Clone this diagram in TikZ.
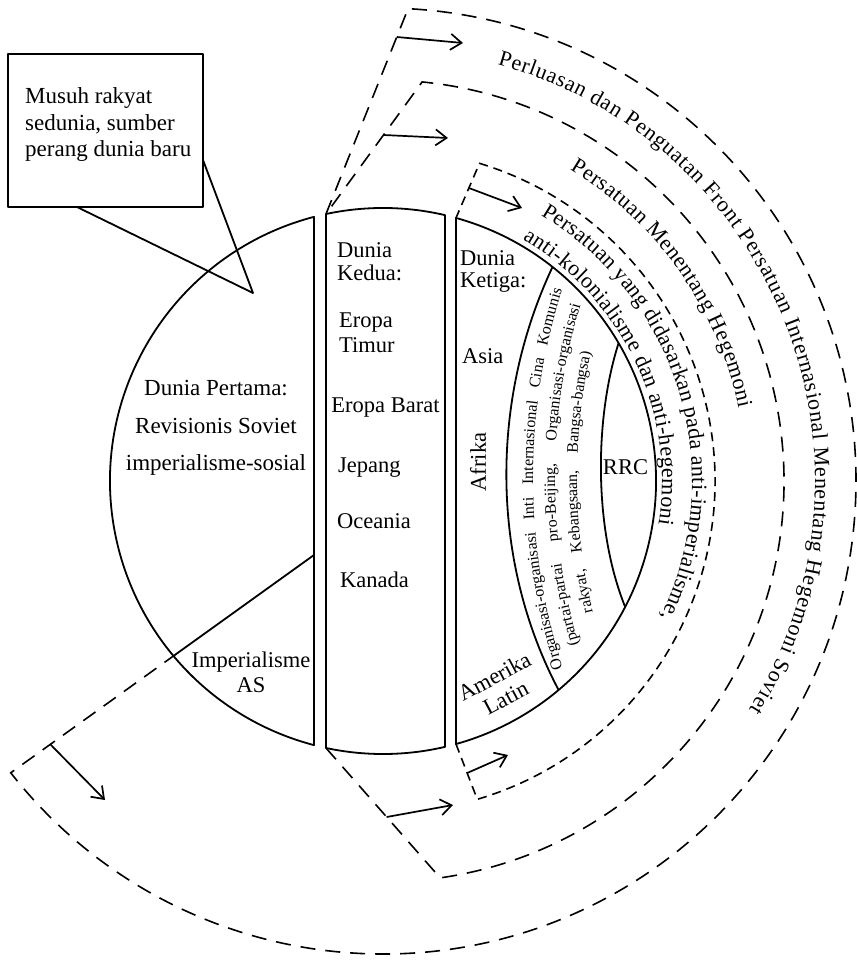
\documentclass[tikz,border=0pt]{standalone}
\usepackage{fontspec}
\setmainfont{Liberation Serif}
\usetikzlibrary{arrows.meta,decorations.text,calc}
\begin{document}
\begin{tikzpicture}[x=1pt,y=-1pt,
  solidline/.style={line width=1.8pt, line join=round},
  dashouter/.style={line width=1.6pt, dash pattern=on 15pt off 10pt},
  dashinner/.style={line width=1.6pt, dash pattern=on 9pt off 6pt},
  growarrow/.style={line width=1.7pt, -{Straight Barb[length=11pt,width=16pt]}},
  lbl/.style={inner sep=0pt, font=\fontsize{22.5}{24}\selectfont},
]
\useasboundingbox (0,0) rectangle (856,960);
\fill[white] (0,0) rectangle (856,960);
% ---------- key points ----------
\coordinate (C) at (383,481);
\coordinate (LT) at (313.96,216.87);
\coordinate (AS1) at (314,555);
\coordinate (AS2) at (173.4,656);
\coordinate (K1) at (326,214);
\coordinate (K2) at (326,748);
\coordinate (KR2) at (445,746.87);
\coordinate (KT) at (456,217.94);
\coordinate (KB) at (456,744.06);
\coordinate (L1C) at (1155,478);
% ---------- first world (left piece) ----------
\draw[solidline] (LT) arc[start angle=255.35, end angle=104.65, radius=273] -- cycle;
\draw[solidline] (AS1) -- (AS2);
% ---------- second world (middle piece) ----------
\draw[solidline] (K1) arc[start angle=257.95, end angle=283.13, radius=273]
   -- (KR2) arc[start angle=76.87, end angle=102.05, radius=273] -- cycle;
% ---------- third world (right piece) ----------
\draw[solidline] (KT) arc[start angle=285.51, end angle=434.49, radius=273] -- cycle;
\draw[solidline] (552.5,267) .. controls (490,400) and (490,560) .. (558.6,690);
\draw[solidline] (618.6,343) .. controls (594,420) and (594,530) .. (625.2,607);
% ---------- dashed bands ----------
\draw[dashouter] (K1) -- ($(C)+(-86.96:473)$) arc[start angle=-86.96, end angle=141.91, radius=473] -- (AS2);
\draw[dashouter] (K2) -- ($(C)+(81.8:401)$) arc[start angle=81.8, end angle=-84.4, radius=401] -- (K1);
\draw[dashinner] (KB) -- ($(C)+(73.5:332)$) arc[start angle=73.5, end angle=-73.1, radius=332] -- (KT);
% ---------- arrows ----------
\coordinate (a1s) at (396.8,37);   \coordinate (a1e) at (463,43);
\coordinate (a2s) at (50,744);     \coordinate (a2e) at (105,800);
\coordinate (a3s) at (383.5,135);  \coordinate (a3e) at (448,138);
\coordinate (a4s) at (386.6,817);  \coordinate (a4e) at (453,805);
\coordinate (a5s) at (468.9,188);  \coordinate (a5e) at (522,208);
\coordinate (a6s) at (467.2,773);  \coordinate (a6e) at (508,755);
\draw[growarrow] (a1s) -- (a1e);
\draw[growarrow] (a2s) -- (a2e);
\draw[growarrow] (a3s) -- (a3e);
\draw[growarrow] (a4s) -- (a4e);
\draw[growarrow] (a5s) -- (a5e);
\draw[growarrow] (a6s) -- (a6e);
% ---------- callout ----------
\coordinate (cb1) at (77,207);
\coordinate (cb2) at (203,160);
\coordinate (tip) at (253,293);
\draw[solidline] (8,54) rectangle (203,207);
\draw[solidline] (cb1) -- (tip) -- (cb2);
\node[lbl, align=left, anchor=west, font=\fontsize{23}{26.5}\selectfont] (musuh) at (25,125)
  {Musuh rakyat\\sedunia, sumber\\perang dunia baru};
% ---------- labels ----------
\node[lbl, align=center, font=\fontsize{23}{37.5}\selectfont] (pertama) at (216,428)
  {Dunia Pertama:\\Revisionis Soviet\\imperialisme-sosial};
\node[lbl, align=center, font=\fontsize{22.5}{25}\selectfont] (imperas) at (251,672) {Imperialisme\\AS};
\node[lbl, align=left, anchor=west, font=\fontsize{22.5}{23}\selectfont] (kedua) at (337,262) {Dunia\\Kedua:};
\node[lbl, align=left, anchor=west, font=\fontsize{22.5}{25}\selectfont] (timur) at (339,333) {Eropa\\Timur};
\node[lbl, anchor=base] (barat) at (385.5,412) {Eropa Barat};
\node[lbl, anchor=base west] (jepang) at (338,472) {Jepang};
\node[lbl, anchor=base west] (oceania) at (337,528) {Oceania};
\node[lbl, anchor=base west] (kanada) at (340,587) {Kanada};
\node[lbl, align=left, anchor=west, font=\fontsize{22.5}{22}\selectfont] (ketiga) at (460,271) {Dunia\\Ketiga:};
\node[lbl, anchor=base west] (asia) at (462,363) {Asia};
\node[lbl, rotate=90] (afrika) at (478,462) {Afrika};
\node[lbl, align=center, rotate=28, font=\fontsize{22.5}{24}\selectfont] (amerika) at (500,687) {Amerika\\Latin};
\node[lbl] (rrc) at (625.5,467) {RRC};
% ---------- curved band texts ----------
\path[decorate, decoration={text along path, text align=fit to path,
  text={|\fontsize{22}{26}\selectfont|Perluasan dan Penguatan Front Persatuan Internasional Menentang Hegemoni Soviet}}]
  ($(C)+(-74.6:432)$) arc[start angle=-74.6, end angle=32, radius=432];
\path[decorate, decoration={text along path, text align=fit to path,
  text={|\fontsize{22}{26}\selectfont|Persatuan Menentang Hegemoni}}]
  ($(C)+(-59:363)$) arc[start angle=-59, end angle=-11.5, radius=363];
\path[decorate, decoration={text along path, text align=fit to path,
  text={|\fontsize{22}{26}\selectfont|Persatuan yang didasarkan pada anti-imperialisme,}}]
  ($(C)+(-59.3:309)$) arc[start angle=-59.3, end angle=26, radius=309];
\path[decorate, decoration={text along path, text align=fit to path,
  text={|\fontsize{22}{26}\selectfont|anti-kolonialisme dan anti-hegemoni}}]
  ($(C)+(-60:279)$) arc[start angle=-60, end angle=9, radius=279];
% ---------- lens texts ----------
\path[decorate, decoration={text along path, text align=fit to path stretching spaces,
  text={|\fontsize{16}{20}\selectfont|Organisasi-organisasi Inti Internasional Cina Komunis}}]
  ($(L1C)+(162.21:622)$) arc[start angle=162.21, end angle=197.59, radius=622];
\path[decorate, decoration={text along path, text align=fit to path stretching spaces,
  text={|\fontsize{16}{20}\selectfont|(partai-partai pro-Beijing, Organisasi-organisasi}}]
  ($(L1C)+(163.84:600)$) arc[start angle=163.84, end angle=196.76, radius=600];
\path[decorate, decoration={text along path, text align=fit to path stretching spaces,
  text={|\fontsize{16}{20}\selectfont|rakyat, Kebangsaan, Bangsa-bangsa)}}]
  ($(L1C)+(166.59:578)$) arc[start angle=166.59, end angle=192.59, radius=578];
\end{tikzpicture}
\end{document}
